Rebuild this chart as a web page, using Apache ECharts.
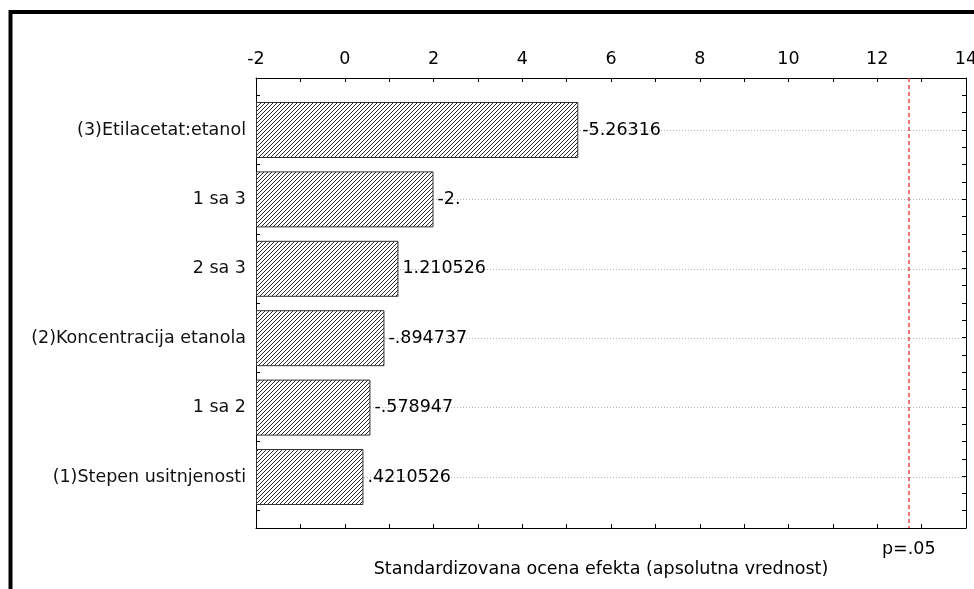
<!DOCTYPE html>
<html><head><meta charset="utf-8">
<script src="https://cdn.jsdelivr.net/npm/echarts@6/dist/echarts.min.js"></script>
<style>html,body{margin:0;padding:0;background:#fff;overflow:hidden}#c{width:974px;height:589px}</style>
</head><body><div id="c"></div>
<script>
const categories = ['(3)Etilacetat:etanol', '1 sa 3', '2 sa 3', '(2)Koncentracija etanola', '1 sa 2', '(1)Stepen usitnjenosti'];
const effects = [5.26316, 2.0, 1.210526, 0.894737, 0.578947, 0.4210526];
const effectLabels = ['-5.26316', '-2.', '1.210526', '-.894737', '-.578947', '.4210526'];
const xTickLabels = ['-2', '0', '2', '4', '6', '8', '10', '12', '14'];
const criticalValue = 12.706;
const criticalLabel = 'p=.05';
const axisTitle = 'Standardizovana ocena efekta (apsolutna vrednost)';

const FONT = 'DejaVu Sans';
const FS = 17.5;

// hatch pattern
const tile = document.createElement('canvas');
tile.width = 4; tile.height = 4;
const g = tile.getContext('2d');
g.fillStyle = '#ffffff'; g.fillRect(0, 0, 4, 4);
g.strokeStyle = '#2a2a2a'; g.lineWidth = 1;
g.beginPath();
g.moveTo(-1, 5); g.lineTo(5, -1);
g.moveTo(-1, 1); g.lineTo(1, -1);
g.moveTo(3, 5); g.lineTo(5, 3);
g.stroke();

const chart = echarts.init(document.getElementById('c'), null, {renderer: 'canvas', width: 974, height: 589});
const xMin = Number(xTickLabels[0]), xMax = Number(xTickLabels[xTickLabels.length - 1]);
const frameY = {
  type: 'value', gridIndex: 0, inverse: true, min: 0, max: 6.5, interval: 0.25,
  axisLine: {show: true, onZero: false, lineStyle: {color: '#000', width: 1}},
  axisTick: {show: true, inside: true, length: 4, lineStyle: {color: '#000'}},
  axisLabel: {show: false}, splitLine: {show: false}
};
chart.setOption({
  animation: false,
  backgroundColor: '#fff',
  textStyle: {fontFamily: FONT},
  grid: [
    {left: 256, right: 8, top: 78, bottom: 61, containLabel: false, outerBoundsMode: 'none'},
    {left: 256, right: 8, top: 130, bottom: 112, containLabel: false, outerBoundsMode: 'none'}
  ],
  xAxis: [
    {
      type: 'value', gridIndex: 0, position: 'top', min: xMin, max: xMax, interval: 1,
      axisLine: {show: true, onZero: false, lineStyle: {color: '#000', width: 1}},
      axisTick: {show: true, inside: true, length: 4, lineStyle: {color: '#000'}},
      axisLabel: {
        show: true, margin: 10, color: '#000', fontFamily: FONT, fontSize: FS,
        showMinLabel: true, showMaxLabel: true,
        formatter: v => (xTickLabels.indexOf(String(v)) >= 0 ? String(v) : '')
      },
      splitLine: {show: false}
    },
    {
      type: 'value', gridIndex: 0, position: 'bottom', min: xMin, max: xMax, interval: 1,
      axisLine: {show: true, onZero: false, lineStyle: {color: '#000', width: 1}},
      axisTick: {show: true, inside: true, length: 4, lineStyle: {color: '#000'}},
      axisLabel: {show: false}, splitLine: {show: false},
      name: axisTitle, nameLocation: 'middle', nameGap: 32,
      nameTextStyle: {color: '#000', fontFamily: FONT, fontSize: FS, padding: [0, 20, 0, 0]}
    },
    {
      type: 'value', gridIndex: 1, min: xMin, max: xMax, startValue: xMin, show: false
    }
  ],
  yAxis: [
    Object.assign({position: 'left'}, frameY),
    Object.assign({position: 'right'}, frameY),
    {
      type: 'category', gridIndex: 1, inverse: true, boundaryGap: false, data: categories,
      axisLine: {show: false}, axisTick: {show: false},
      axisLabel: {margin: 10, color: '#111', fontFamily: FONT, fontSize: FS},
      splitLine: {show: true, lineStyle: {color: '#b4b4b4', type: [1, 2], width: 1}}
    }
  ],
  series: [
    {
      type: 'bar', xAxisIndex: 2, yAxisIndex: 2, data: effects, barWidth: 56, clip: false,
      itemStyle: {color: {image: tile, repeat: 'repeat'}, borderColor: '#333', borderWidth: 1},
      label: {
        show: true, position: 'right', distance: 4, color: '#000', fontFamily: FONT, fontSize: FS,
        formatter: p => effectLabels[p.dataIndex]
      },
      z: 3
    },
    {
      type: 'line', xAxisIndex: 0, yAxisIndex: 0, data: [], silent: true,
      markLine: {
        silent: true, symbol: 'none', animation: false,
        lineStyle: {color: '#f04545', type: [4, 3], width: 1.5},
        label: {show: true, position: 'end', distance: 12, formatter: criticalLabel,
                color: '#000', fontFamily: FONT, fontSize: FS},
        data: [{xAxis: criticalValue}]
      },
      z: 4
    }
  ],
  graphic: [
    {type: 'rect', shape: {x: 10.5, y: 12, width: 1200, height: 1200},
     style: {fill: 'none', stroke: '#000', lineWidth: 4}, silent: true, z: 100}
  ]
});
</script></body></html>
